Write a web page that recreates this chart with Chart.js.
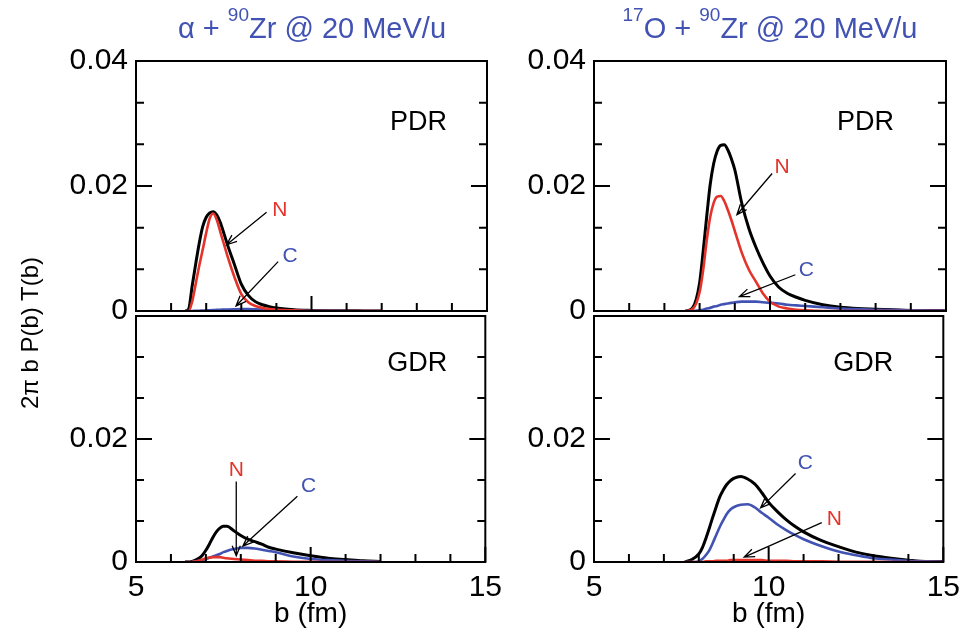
<!DOCTYPE html>
<html>
<head>
<meta charset="utf-8">
<script src="https://cdn.jsdelivr.net/npm/chart.js@4.4.0/dist/chart.umd.min.js"></script>
<style>
body { margin: 0; background: #fff; }
canvas { position: absolute; }
#frames { left: 0; top: 0; z-index: 5; pointer-events: none; }
.title { position: absolute; top: 14px; width: 400px; text-align: center; font-family: 'Liberation Sans', Arial, sans-serif; font-size: 29px; line-height: 29px; color: #4152b3; white-space: nowrap; }
.title sup { font-size: 19px; vertical-align: baseline; position: relative; top: -17px; }
.ylab { position: absolute; left: -120px; top: 318px; width: 300px; height: 30px; line-height: 30px; text-align: center; font-family: 'Liberation Sans', Arial, sans-serif; font-size: 24px; transform: rotate(-90deg); }
</style>
</head>
<body>
<canvas id="tl" width="510" height="340" style="left:0;top:0"></canvas>
<canvas id="bl" width="510" height="349" style="left:0;top:290px"></canvas>
<canvas id="tr" width="508" height="340" style="left:460px;top:0"></canvas>
<canvas id="br" width="508" height="349" style="left:460px;top:290px"></canvas>
<div class="title" style="left:112px">&alpha; + <sup>90</sup>Zr @ 20 MeV/u</div>
<div class="title" style="left:570px"><sup>17</sup>O + <sup>90</sup>Zr @ 20 MeV/u</div>
<div class="ylab">2&pi; b P(b) T(b)</div>
<canvas id="frames" width="968" height="639"></canvas>
<script>
// impact parameter grids (fm)
const bLeft = [6.4, 6.5, 6.6, 6.7, 6.8, 6.9, 7.0, 7.1, 7.2, 7.3, 7.4, 7.5, 7.6, 7.8, 8.0, 8.2, 8.4, 8.6, 8.8, 9.0, 9.5, 10, 10.5, 11, 11.5, 12];
const bRight = [7.6, 7.8, 8.0, 8.1, 8.2, 8.3, 8.4, 8.5, 8.6, 8.7, 8.8, 8.9, 9.0, 9.2, 9.4, 9.6, 9.8, 10.0, 10.25, 10.5, 10.75, 11, 11.5, 12, 12.5, 13, 13.5, 14, 14.5, 15];

// alpha + 90Zr
const alphaPdrTotal = [0, 0.0003, 0.004, 0.0075, 0.0108, 0.0135, 0.0150, 0.0157, 0.0159, 0.0154, 0.0142, 0.0125, 0.0107, 0.0075, 0.0043, 0.0025, 0.0015, 0.0010, 0.0007, 0.0005, 0.0002, 0.0001, 0.00005, 0.00003, 0.00002, 0.00001];
const alphaPdrN = [0, 0, 0.0015, 0.0043, 0.0072, 0.0098, 0.0125, 0.0148, 0.0156, 0.0146, 0.0127, 0.0108, 0.0089, 0.0055, 0.0027, 0.0014, 0.0008, 0.0005, 0.0003, 0.0002, 0.0001, 0, 0, 0, 0, 0];
const alphaPdrC = [0, 0, 0, 0.00003, 0.00005, 0.00008, 0.0001, 0.00013, 0.00016, 0.00019, 0.0002, 0.00023, 0.00025, 0.00028, 0.0003, 0.0003, 0.00027, 0.00022, 0.00017, 0.00013, 0.00007, 0.00004, 0.00002, 0.00001, 0, 0];
const alphaGdrTotal = [0, 0, 0.0001, 0.0003, 0.0006, 0.0011, 0.0019, 0.0029, 0.0040, 0.0049, 0.0055, 0.0058, 0.0058, 0.0051, 0.0043, 0.0037, 0.0033, 0.0029, 0.0024, 0.0021, 0.0015, 0.0010, 0.0006, 0.0004, 0.0002, 0.0001];
const alphaGdrN = [0, 0, 0, 0.0001, 0.0002, 0.0004, 0.0006, 0.0007, 0.0008, 0.0008, 0.0008, 0.0007, 0.0006, 0.0005, 0.0004, 0.0003, 0.0002, 0.0002, 0.0001, 0.0001, 0.00005, 0.00002, 0.00001, 0, 0, 0];
const alphaGdrC = [0, 0, 0, 0.0001, 0.0002, 0.0003, 0.0005, 0.0007, 0.0009, 0.0011, 0.0013, 0.0016, 0.0018, 0.0021, 0.0023, 0.0023, 0.0022, 0.0020, 0.0018, 0.0016, 0.0009, 0.0005, 0.0003, 0.0002, 0.0001, 0.00005];

// 17O + 90Zr
const oxyPdrTotal = [0, 0.0005, 0.0045, 0.0095, 0.015, 0.0202, 0.0236, 0.0256, 0.0265, 0.0266, 0.0258, 0.0244, 0.0226, 0.0172, 0.0132, 0.0102, 0.0077, 0.0056, 0.0038, 0.0028, 0.0022, 0.0017, 0.0010, 0.0006, 0.0004, 0.0003, 0.0002, 0.0001, 0.0001, 0.00005];
const oxyPdrN = [0, 0.0003, 0.003, 0.0065, 0.0112, 0.0150, 0.0173, 0.0183, 0.0184, 0.0176, 0.0162, 0.0146, 0.0128, 0.0093, 0.0066, 0.0047, 0.0028, 0.0015, 0.0007, 0.0004, 0.0002, 0.0001, 0, 0, 0, 0, 0, 0, 0, 0];
const oxyPdrC = [0, 0, 0.0001, 0.0002, 0.0004, 0.0005, 0.0007, 0.0008, 0.001, 0.0011, 0.0012, 0.0013, 0.0014, 0.0015, 0.0015, 0.0015, 0.0014, 0.0013, 0.0012, 0.001, 0.0009, 0.0008, 0.0006, 0.0004, 0.0003, 0.0002, 0.00015, 0.0001, 0.00007, 0.00005];
const oxyGdrTotal = [0, 0.0004, 0.0013, 0.0023, 0.0038, 0.0055, 0.0073, 0.0090, 0.0106, 0.0117, 0.0126, 0.0132, 0.0136, 0.0139, 0.0135, 0.0127, 0.0113, 0.0097, 0.0082, 0.0069, 0.0058, 0.0049, 0.0035, 0.0025, 0.0016, 0.0010, 0.0006, 0.0003, 0.0001, 0.0001];
const oxyGdrN = [0, 0, 0, 0, 0.0001, 0.0001, 0.0001, 0.0002, 0.0002, 0.0002, 0.0002, 0.0003, 0.0003, 0.0003, 0.0003, 0.0003, 0.0003, 0.0002, 0.0002, 0.0002, 0.0001, 0.0001, 0.0001, 0.00005, 0.00003, 0.00002, 0.00001, 0, 0, 0];
const oxyGdrC = [0, 0, 0.0001, 0.0005, 0.0011, 0.0019, 0.0031, 0.0044, 0.0057, 0.0068, 0.0078, 0.0085, 0.0089, 0.0093, 0.0094, 0.0089, 0.0080, 0.0072, 0.0061, 0.0052, 0.0044, 0.0037, 0.0026, 0.0017, 0.0011, 0.0006, 0.0004, 0.0002, 0.0001, 0.00005];

// ticks
const xTickVals = [5, 6, 7, 8, 9, 10, 11, 12, 13, 14, 15];
const xLabelVals = [5, 10, 15];
const yTickVals = [0, 0.02 / 3, 0.04 / 3, 0.02, 0.08 / 3, 0.1 / 3, 0.04];
const yLabelsTop = [0, 0.02, 0.04];
const yLabelsBottom = [0, 0.02];

const red = '#e4332b', blue = '#4152b3';
const FONT = "'Liberation Sans', Arial, sans-serif";
Chart.defaults.font.family = FONT;
Chart.defaults.color = '#000';

const near = (list, v) => list.some(l => Math.abs(l - v) < 1e-9);

// per-canvas settings: tick labels, panel tag, arrow notes
const panels = {};

function arrow(ctx, x1, y1, x2, y2) {
  const a = Math.atan2(y2 - y1, x2 - x1), len = 11, s = 0.38;
  ctx.beginPath();
  ctx.moveTo(x1, y1);
  ctx.lineTo(x2, y2);
  ctx.moveTo(x2 - len * Math.cos(a - s), y2 - len * Math.sin(a - s));
  ctx.lineTo(x2, y2);
  ctx.lineTo(x2 - len * Math.cos(a + s), y2 - len * Math.sin(a + s));
  ctx.stroke();
}

// PDR / GDR tag and the N, C arrows
const panelNotes = {
  id: 'panelNotes',
  afterDraw(chart) {
    const ctx = chart.ctx, x = chart.scales.x, y = chart.scales.y;
    const p = panels[chart.canvas.id];
    ctx.save();
    ctx.textAlign = 'center';
    ctx.textBaseline = 'middle';
    ctx.fillStyle = '#000';
    ctx.strokeStyle = '#000';
    ctx.font = '27px ' + FONT;
    ctx.fillText(p.tag[0], x.getPixelForValue(p.tag[1]), y.getPixelForValue(p.tag[2]));
    ctx.lineWidth = 1.3;
    ctx.font = '21px ' + FONT;
    p.notes.forEach(n => {
      ctx.fillStyle = n.color;
      ctx.fillText(n.text, x.getPixelForValue(n.at[0]), y.getPixelForValue(n.at[1]));
      arrow(ctx, x.getPixelForValue(n.from[0]), y.getPixelForValue(n.from[1]),
        x.getPixelForValue(n.to[0]), y.getPixelForValue(n.to[1]));
    });
    ctx.restore();
  }
};

function makePanel(id, b, total, n, c, cfg) {
  panels[id] = cfg;
  const pts = arr => arr.map((v, i) => ({ x: b[i], y: v }));
  const line = (arr, color, w) => ({
    data: pts(arr), borderColor: color, borderWidth: w, pointRadius: 0,
    cubicInterpolationMode: 'monotone', fill: false
  });
  return new Chart(document.getElementById(id), {
    type: 'line',
    data: { datasets: [line(n, red, 2.6), line(c, blue, 2.6), line(total, '#000', 3)] },
    options: {
      responsive: false, animation: false, devicePixelRatio: 1,
      layout: { padding: cfg.padding },
      plugins: { legend: { display: false }, tooltip: { enabled: false } },
      scales: {
        x: {
          type: 'linear', min: 5, max: 15, display: cfg.showX,
          grid: { display: false, drawTicks: false }, border: { display: false },
          afterBuildTicks: s => { s.ticks = xTickVals.map(v => ({ value: v })); },
          afterFit: s => { if (cfg.showX) s.height = 77; },
          ticks: { autoSkip: false, maxRotation: 0, padding: 8, font: { size: 30 },
            callback: v => near(xLabelVals, v) ? String(v) : '' },
          title: { display: true, text: 'b (fm)', font: { size: 28 }, padding: { top: 0, bottom: 8 } }
        },
        y: {
          type: 'linear', min: 0, max: 0.04,
          grid: { display: false, drawTicks: false }, border: { display: false },
          afterBuildTicks: s => { s.ticks = yTickVals.map(v => ({ value: v })); },
          afterFit: s => { s.width = cfg.yWidth; },
          ticks: { autoSkip: false, padding: 8, font: { size: 30 },
            callback: v => near(cfg.yLabels, v) ? (Math.abs(v) < 1e-9 ? '0' : v.toFixed(2)) : '' }
        }
      }
    },
    plugins: [panelNotes]
  });
}

const charts = [
  makePanel('tl', bLeft, alphaPdrTotal, alphaPdrN, alphaPdrC, {
    padding: { top: 61, right: 23, bottom: 29, left: 0 }, yWidth: 136, showX: false,
    yLabels: yLabelsTop, tag: ['PDR', 13.05, 0.0302],
    notes: [
      { text: 'N', color: red, at: [9.1, 0.0162], from: [8.72, 0.0158], to: [7.58, 0.0106] },
      { text: 'C', color: blue, at: [9.39, 0.0088], from: [9.05, 0.0079], to: [7.85, 0.0008] }
    ]
  }),
  makePanel('bl', bLeft, alphaGdrTotal, alphaGdrN, alphaGdrC, {
    padding: { top: 21, right: 23, bottom: 0, left: 0 }, yWidth: 136, showX: true,
    yLabels: yLabelsBottom, tag: ['GDR', 13.05, 0.0322],
    notes: [
      { text: 'N', color: red, at: [7.87, 0.015], from: [7.87, 0.0131], to: [7.87, 0.001] },
      { text: 'C', color: blue, at: [9.94, 0.0123], from: [9.62, 0.0107], to: [8.06, 0.0026] }
    ]
  }),
  makePanel('tr', bRight, oxyPdrTotal, oxyPdrN, oxyPdrC, {
    padding: { top: 61, right: 22, bottom: 29, left: 0 }, yWidth: 134, showX: false,
    yLabels: yLabelsTop, tag: ['PDR', 12.71, 0.0302],
    notes: [
      { text: 'N', color: red, at: [10.34, 0.023], from: [10.06, 0.022], to: [9.06, 0.0154] },
      { text: 'C', color: blue, at: [11.03, 0.0066], from: [10.72, 0.0058], to: [9.13, 0.0023] }
    ]
  }),
  makePanel('br', bRight, oxyGdrTotal, oxyGdrN, oxyGdrC, {
    padding: { top: 21, right: 22, bottom: 0, left: 0 }, yWidth: 134, showX: true,
    yLabels: yLabelsBottom, tag: ['GDR', 12.71, 0.0322],
    notes: [
      { text: 'C', color: blue, at: [11.05, 0.016], from: [10.77, 0.0144], to: [9.77, 0.0088] },
      { text: 'N', color: red, at: [11.88, 0.007], from: [11.52, 0.0064], to: [9.3, 0.0008] }
    ]
  })
];

// box frames and inward ticks on a top layer, placed from each chart's scales
const fr = document.getElementById('frames').getContext('2d');
fr.strokeStyle = '#000';
fr.lineWidth = 2;
charts.forEach(ch => {
  const ox = parseFloat(ch.canvas.style.left) || 0, oy = parseFloat(ch.canvas.style.top) || 0;
  const a = ch.chartArea, x = ch.scales.x, y = ch.scales.y;
  const yLabels = panels[ch.canvas.id].yLabels;
  const L = ox + a.left, R = ox + a.right, T = oy + a.top, B = oy + a.bottom;
  fr.strokeRect(L, T, R - L, B - T);
  fr.beginPath();
  yTickVals.forEach(v => {
    const py = oy + y.getPixelForValue(v), len = near(yLabels, v) ? 16 : 8;
    fr.moveTo(L, py); fr.lineTo(L + len, py);
    fr.moveTo(R, py); fr.lineTo(R - len, py);
  });
  xTickVals.forEach(v => {
    const px = ox + x.getPixelForValue(v), len = near(xLabelVals, v) ? 15 : 8;
    fr.moveTo(px, B); fr.lineTo(px, B - len);
  });
  fr.stroke();
});
</script>
</body>
</html>
